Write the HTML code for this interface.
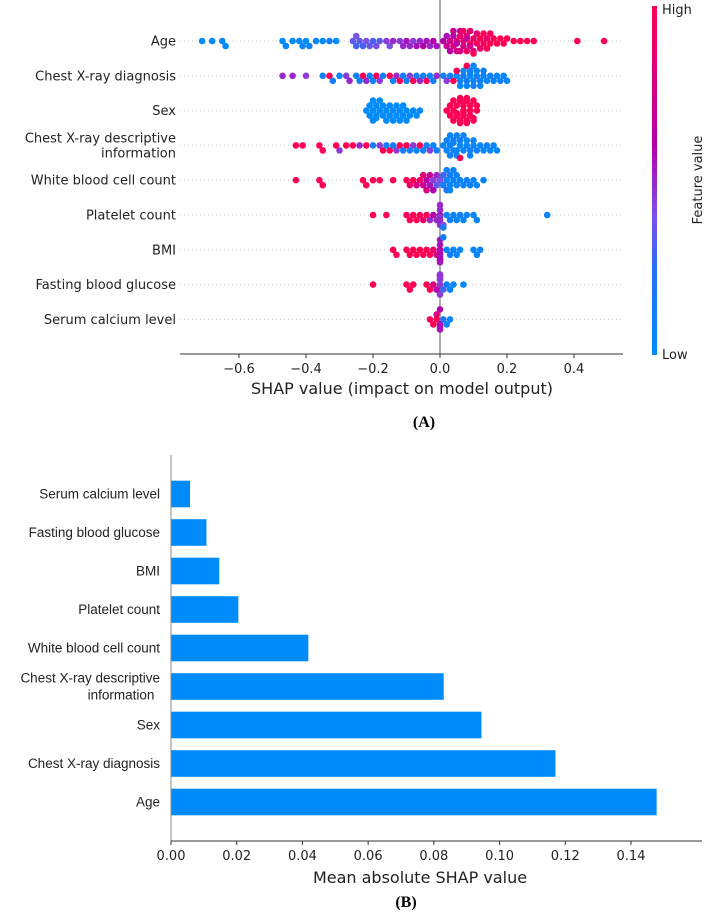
<!DOCTYPE html>
<html><head><meta charset="utf-8">
<style>
html,body{margin:0;padding:0;background:#fff;}
svg{display:block;}
text{font-family:"DejaVu Sans","Liberation Sans",sans-serif;fill:#222;}
.lbl{font-family:"Liberation Sans",sans-serif;font-size:13.5px;fill:#222;}
.serif{font-family:"Liberation Serif",serif;font-size:16px;font-weight:bold;fill:#000;}
</style></head>
<body>
<svg id="fig" width="704" height="914" viewBox="0 0 704 914">
<defs>
<linearGradient id="cbar" x1="0" y1="1" x2="0" y2="0">
<stop offset="0" stop-color="rgb(0,139,250)"/>
<stop offset="0.25" stop-color="rgb(40,110,245)"/>
<stop offset="0.4" stop-color="rgb(125,80,230)"/>
<stop offset="0.6" stop-color="rgb(180,0,170)"/>
<stop offset="1" stop-color="rgb(255,0,82)"/>
</linearGradient>
</defs>
<g id="topChart"></g>
<g id="bottomChart"></g>
</svg>
<script>
const features = ["Age","Chest X-ray diagnosis","Sex","Chest X-ray descriptive information","White blood cell count","Platelet count","BMI","Fasting blood glucose","Serum calcium level"];
const featureLabelLines = [["Age"],["Chest X-ray diagnosis"],["Sex"],["Chest X-ray descriptive","information"],["White blood cell count"],["Platelet count"],["BMI"],["Fasting blood glucose"],["Serum calcium level"]];
const ageShap = [-0.71,-0.68,-0.65,-0.64,-0.47,-0.46,-0.44,-0.42,-0.41,-0.40,-0.39,-0.37,-0.35,-0.33,-0.31,-0.26,-0.25,-0.25,-0.24,-0.23,-0.22,-0.21,-0.20,-0.19,-0.18,-0.16,-0.15,-0.14,-0.12,-0.11,-0.10,-0.09,-0.08,-0.07,-0.06,-0.05,-0.04,-0.03,-0.02,-0.01,0.01,0.02,0.02,0.03,0.03,0.04,0.04,0.04,0.05,0.05,0.05,0.06,0.06,0.06,0.07,0.07,0.07,0.08,0.08,0.08,0.09,0.09,0.09,0.10,0.10,0.10,0.11,0.11,0.12,0.12,0.13,0.13,0.14,0.14,0.15,0.15,0.16,0.17,0.18,0.19,0.20,0.22,0.24,0.26,0.28,0.41,0.49];
const ageVal  = [0,0,0.05,0,0,0.05,0,0,0.05,0,0.1,0.05,0,0.1,0,0.35,0.3,0.4,0.35,0.3,0.4,0.35,0.3,0.4,0.35,0.45,0.4,0.5,0.45,0.5,0.55,0.5,0.45,0.55,0.5,0.6,0.55,0.5,0.6,0.55,0.6,0.7,0.55,0.75,0.65,0.8,0.6,0.7,0.85,0.75,0.65,0.9,0.7,0.8,0.85,0.75,0.95,0.8,0.9,0.7,1,0.85,0.75,0.9,0.8,1,0.95,0.85,1,0.9,0.95,1,0.9,1,1,0.95,1,1,1,1,1,1,1,1,1,1,1];
const diagShap = [-0.47,-0.44,-0.40,-0.35,-0.33,-0.32,-0.30,-0.28,-0.27,-0.25,-0.24,-0.23,-0.22,-0.21,-0.20,-0.19,-0.18,-0.17,-0.15,-0.14,-0.13,-0.12,-0.11,-0.10,-0.09,-0.08,-0.07,-0.06,-0.05,-0.04,-0.03,-0.02,-0.01,0.01,0.02,0.03,0.04,0.05,0.05,0.06,0.06,0.07,0.07,0.08,0.08,0.08,0.09,0.09,0.09,0.10,0.10,0.10,0.11,0.11,0.12,0.12,0.13,0.13,0.14,0.15,0.16,0.17,0.18,0.19,0.20];
const diagVal  = [0.5,0.5,0.45,0.1,1,0.1,0.05,0.45,0.5,0.05,0.1,1,0.5,0.1,0.05,1,0.45,0.1,1,0.05,0.5,1,0.1,0.05,0.45,1,0.1,0.5,0.1,1,0.05,0.1,0.5,0.1,0.45,0.1,1,0.05,1,0.1,0.05,0.1,0.05,0.1,0.05,1,0.05,0.1,0.05,0.05,0.1,0.05,0.1,0.05,0.1,0.05,0.05,0.1,0.05,0.1,0.05,0.05,0.1,0.05,0.05];
const sexShap = [-0.22,-0.21,-0.21,-0.20,-0.20,-0.20,-0.19,-0.19,-0.19,-0.18,-0.18,-0.17,-0.17,-0.16,-0.16,-0.15,-0.15,-0.14,-0.14,-0.13,-0.13,-0.12,-0.12,-0.11,-0.11,-0.10,-0.10,-0.09,-0.08,-0.07,-0.06,0.02,0.03,0.03,0.04,0.04,0.04,0.05,0.05,0.05,0.05,0.06,0.06,0.06,0.06,0.06,0.07,0.07,0.07,0.07,0.07,0.07,0.08,0.08,0.08,0.08,0.08,0.09,0.09,0.09,0.09,0.10,0.10,0.10,0.11,0.11];
const sexVal  = [0,0,0,0,0,0,0,0,0,0,0,0,0,0,0,0,0,0,0,0,0,0,0,0,0,0,0,0,0,0,0,1,1,1,1,1,1,1,1,1,1,1,1,1,1,1,1,1,1,1,1,1,1,1,1,1,1,1,1,1,1,1,1,1,1,1];
const descShap = [-0.43,-0.41,-0.36,-0.35,-0.31,-0.30,-0.28,-0.26,-0.24,-0.22,-0.20,-0.18,-0.17,-0.16,-0.15,-0.14,-0.13,-0.12,-0.11,-0.10,-0.09,-0.08,-0.07,-0.06,-0.05,-0.04,-0.03,-0.02,-0.01,0.01,0.02,0.02,0.03,0.03,0.03,0.04,0.04,0.04,0.05,0.05,0.05,0.06,0.06,0.06,0.07,0.07,0.08,0.08,0.09,0.09,0.10,0.10,0.11,0.12,0.13,0.14,0.15,0.16,0.17];
const descVal  = [1,1,1,1,1,0.45,1,1,0.5,1,0.1,0.45,1,0.1,1,0.1,0.45,1,0.1,1,0.1,0.45,0.05,1,0.1,0.1,0.45,0.05,0.1,0.05,0.05,0.1,0.05,0.1,0.05,0.05,0.1,0.05,0.05,0.1,0.05,0.05,0.1,1,0.05,0.1,0.05,0.05,0.1,0.05,0.05,0.05,0.1,0.05,0.05,0.1,0.05,0.05,0.05];
const wbcShap = [-0.43,-0.36,-0.35,-0.23,-0.22,-0.20,-0.18,-0.14,-0.10,-0.09,-0.08,-0.07,-0.06,-0.05,-0.05,-0.04,-0.04,-0.03,-0.03,-0.02,-0.02,-0.01,-0.01,0.00,0.01,0.01,0.02,0.02,0.02,0.03,0.03,0.03,0.04,0.04,0.05,0.05,0.06,0.07,0.08,0.09,0.10,0.11,0.13];
const wbcVal  = [1,1,1,1,1,1,1,1,1,0.9,1,0.8,0.9,0.7,0.85,0.6,0.8,0.55,0.7,0.45,0.6,0.35,0.5,0.4,0.1,0.3,0.05,0.2,0.1,0.05,0.1,0.05,0.05,0.1,0.05,0.05,0.05,0.05,0.1,0.05,0.05,0.05,0.05];
const pltShap = [-0.20,-0.16,-0.10,-0.09,-0.08,-0.07,-0.06,-0.05,-0.04,-0.03,-0.02,-0.01,0.00,0.00,0.00,0.00,0.00,0.00,0.00,0.00,0.01,0.01,0.02,0.03,0.04,0.05,0.06,0.07,0.08,0.10,0.11,0.32];
const pltVal  = [1,1,1,1,1,1,1,0.9,1,0.5,0.6,0.5,0.55,0.5,0.45,0.5,0.55,0.45,0.5,0.5,0.4,0.1,0.05,0.1,0.05,0.05,0.1,0.05,0.05,0.05,0.05,0.05];
const bmiShap = [-0.14,-0.13,-0.10,-0.09,-0.08,-0.07,-0.06,-0.05,-0.04,-0.03,-0.02,-0.01,0.00,0.00,0.00,0.00,0.00,0.00,0.00,0.00,0.00,0.00,0.01,0.02,0.03,0.04,0.05,0.06,0.10,0.11,0.12];
const bmiVal  = [1,1,1,1,1,1,1,1,1,1,0.9,0.8,0.6,0.55,0.6,0.55,0.6,0.55,0.6,0.55,0.6,0.55,0.1,0.05,0.1,0.05,0.05,0.05,0.05,0.05,0.05];
const fbgShap = [-0.20,-0.10,-0.09,-0.08,-0.04,-0.03,-0.02,-0.01,0.00,0.00,0.00,0.00,0.00,0.00,0.00,0.01,0.02,0.03,0.04,0.07];
const fbgVal  = [1,1,1,1,1,1,0.8,0.6,0.45,0.5,0.45,0.5,0.45,0.5,0.45,0.3,0.1,0.05,0.05,0.05];
const serShap = [-0.03,-0.02,-0.01,-0.01,0.00,0.00,0.00,0.00,0.00,0.00,0.01,0.02,0.03];
const serVal  = [1,1,1,0.8,0.6,0.55,0.6,0.55,0.6,0.55,0.2,0.05,0.05];
const shapRows = [ageShap,diagShap,sexShap,descShap,wbcShap,pltShap,bmiShap,fbgShap,serShap];
const valRows = [ageVal,diagVal,sexVal,descVal,wbcVal,pltVal,bmiVal,fbgVal,serVal];
const topTicks = [-0.6,-0.4,-0.2,0.0,0.2,0.4];
const topTickLabels = ["\u22120.6","\u22120.4","\u22120.2","0.0","0.2","0.4"];
const barFeatures = ["Serum calcium level","Fasting blood glucose","BMI","Platelet count","White blood cell count","Chest X-ray descriptive information","Sex","Chest X-ray diagnosis","Age"];
const barLabelLines = [["Serum calcium level"],["Fasting blood glucose"],["BMI"],["Platelet count"],["White blood cell count"],["Chest X-ray descriptive","information"],["Sex"],["Chest X-ray diagnosis"],["Age"]];
const barValues = [0.0058,0.0108,0.0147,0.0205,0.0418,0.0830,0.0945,0.1170,0.1478];
const bottomTicks = [0,0.02,0.04,0.06,0.08,0.10,0.12,0.14];
const bottomTickLabels = ["0.00","0.02","0.04","0.06","0.08","0.10","0.12","0.14"];

const NS="http://www.w3.org/2000/svg";
function mk(parent,tag,attrs,txt){const e=document.createElementNS(NS,tag);for(const k in attrs)e.setAttribute(k,attrs[k]);if(txt!==undefined)e.textContent=txt;parent.appendChild(e);return e;}

const topG=document.getElementById('topChart');
const X0=440, XS=335, PL=180, PR=623, AXY=354;
const tx=v=>X0+v*XS;
const rowY=i=>41+i*34.8;
function cmap(t){
  const st=[[0,[0,139,250]],[0.25,[40,110,245]],[0.4,[125,80,230]],[0.6,[180,0,170]],[1,[255,0,82]]];
  for(let k=1;k<st.length;k++){if(t<=st[k][0]){const a=st[k-1],b=st[k];const f=(t-a[0])/(b[0]-a[0]);return 'rgb('+a[1].map((c,j)=>Math.round(c+(b[1][j]-c)*f)).join(',')+')';}}
  return 'rgb(255,0,82)';
}
features.forEach((f,i)=>{
  const y=rowY(i);
  const gl=mk(topG,'line',{x1:PL,x2:PR,y1:y,y2:y,stroke:'#ccc','stroke-width':1,'stroke-dasharray':'1,3'});
  
  
  const lines=featureLabelLines[i];
  lines.forEach((ln,k)=>{
    const t=mk(topG,'text',{x:176,y:y+4.5+(k-(lines.length-1)/2)*15,'text-anchor':'end','font-size':'13'},ln);
    
    
  });
});
const zl=mk(topG,'line',{x1:X0,x2:X0,y1:0,y2:AXY,stroke:'#999','stroke-width':1.6});


const R=3.3;
shapRows.forEach((xs,i)=>{
  const yc=rowY(i);
  const idx=xs.map((_,k)=>k).sort((a,b)=>xs[a]-xs[b]);
  const placed=[];
  idx.forEach(k=>{
    const px=tx(xs[k]);
    let off=0,found=false;
    for(let s=0;s<14;s++){
      const cand=s===0?0:(s%2?1:-1)*Math.ceil(s/2)*2.5;
      if(Math.abs(cand)>13)break;
      let ok=true;
      for(const p of placed){if(Math.abs(p[0]-px)<4.5&&Math.abs(p[1]-cand)<3.5){ok=false;break;}}
      if(ok){off=cand;found=true;break;}
    }
    if(!found)off=((k%11)-5)*2.5;
    placed.push([px,off]);
    const c=mk(topG,'circle',{cx:px,cy:yc+off,r:R,fill:cmap(valRows[i][k])});
    
    
  });
});
const ax=mk(topG,'line',{x1:PL,x2:PR,y1:AXY,y2:AXY,stroke:'#333','stroke-width':1});


topTicks.forEach((v,k)=>{
  const tk=mk(topG,'line',{x1:tx(v),x2:tx(v),y1:AXY,y2:AXY+4,stroke:'#333'});
  
  
  const tl=mk(topG,'text',{x:tx(v),y:AXY+19,'text-anchor':'middle','font-size':'13'},topTickLabels[k]);
  
  
});
const xt=mk(topG,'text',{x:402,y:394,'text-anchor':'middle','font-size':'16'},'SHAP value (impact on model output)');


const pa=mk(topG,'text',{x:424,y:427,'text-anchor':'middle',class:'serif'},'(A)');


const cb=mk(topG,'rect',{x:652,y:6,width:5,height:349,fill:'url(#cbar)'});


const hi=mk(topG,'text',{x:662,y:14,'font-size':'13'},'High');


const lo=mk(topG,'text',{x:662,y:359,'font-size':'13'},'Low');


const fv=mk(topG,'text',{x:0,y:0,'text-anchor':'middle','font-size':'13',transform:'translate(702,180) rotate(-90)'},'Feature value');



const botG=document.getElementById('bottomChart');
const BX0=171, BXS=(631-171)/0.14, BAXY=841;
const bx=v=>BX0+v*BXS;
const barY=i=>494+i*38.5;
barValues.forEach((v,i)=>{
  const r=mk(botG,'rect',{x:BX0,y:barY(i)-13.3,width:bx(v)-BX0,height:26.6,fill:'#008bfb'});
  
  
  const lines=barLabelLines[i];
  lines.forEach((ln,k)=>{
    const t=mk(botG,'text',{x:(lines.length>1&&k==1)?121:160,y:barY(i)+4.5+(k-(lines.length-1)/2)*17,'text-anchor':(lines.length>1&&k==1)?'middle':'end',class:'lbl'},ln);
    
    
  });
});
const ls=mk(botG,'line',{x1:BX0,x2:BX0,y1:455,y2:BAXY,stroke:'#888','stroke-width':1});


const bs=mk(botG,'line',{x1:BX0,x2:702,y1:BAXY,y2:BAXY,stroke:'#333','stroke-width':1});


bottomTicks.forEach((v,k)=>{
  const tk=mk(botG,'line',{x1:bx(v),x2:bx(v),y1:BAXY,y2:BAXY+4,stroke:'#333'});
  
  
  const tl=mk(botG,'text',{x:bx(v),y:BAXY+19,'text-anchor':'middle','font-size':'13'},bottomTickLabels[k]);
  
  
});
const bt=mk(botG,'text',{x:420,y:883,'text-anchor':'middle','font-size':'16'},'Mean absolute SHAP value');


const pb=mk(botG,'text',{x:406,y:907,'text-anchor':'middle',class:'serif'},'(B)');


</script>
</body></html>
